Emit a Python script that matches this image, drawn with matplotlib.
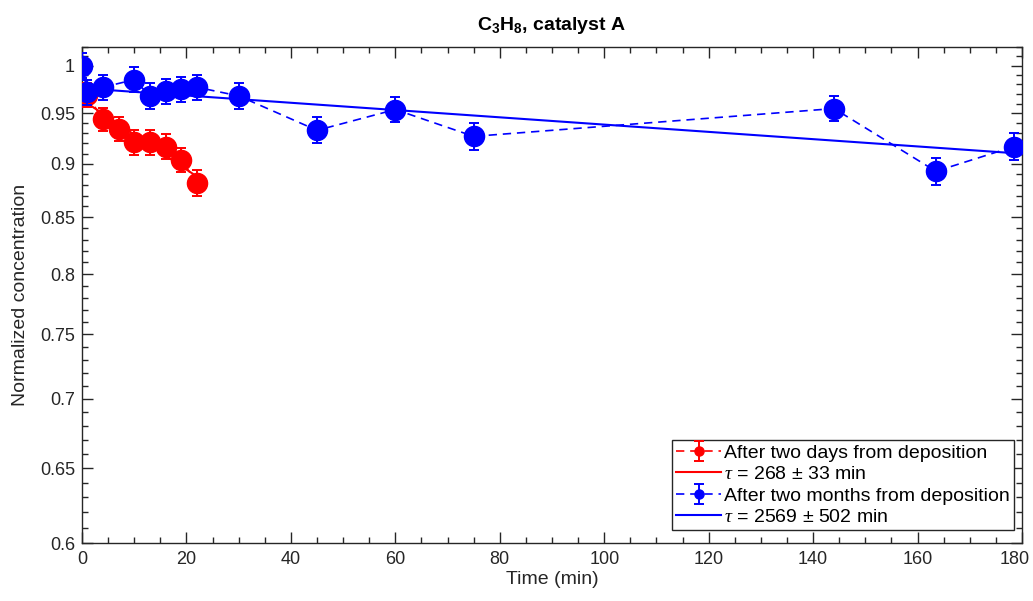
import numpy as np
import matplotlib
matplotlib.use("Agg")
import matplotlib.pyplot as plt
import matplotlib.transforms as mtransforms
from matplotlib.ticker import FixedLocator, FixedFormatter

plt.rcParams['font.family'] = ['Liberation Sans', 'DejaVu Sans']
plt.rcParams['mathtext.fontset'] = 'custom'
plt.rcParams['mathtext.rm'] = 'Liberation Sans'
plt.rcParams['mathtext.it'] = 'Liberation Serif:italic'
plt.rcParams['mathtext.bf'] = 'Liberation Sans:bold'

# ---- data ----
t_red = [1, 4, 7, 10, 13, 16, 19, 22]
c_red = [0.969, 0.944, 0.934, 0.921, 0.921, 0.917, 0.904, 0.882]
e_red = [0.012, 0.012, 0.012, 0.012, 0.012, 0.012, 0.012, 0.012]

t_blue = [0, 1, 4, 10, 13, 16, 19, 22, 30, 45, 60, 75, 144, 163.5, 178.5]
c_blue = [1.0, 0.972, 0.977, 0.985, 0.968, 0.973, 0.975, 0.977, 0.968,
          0.933, 0.954, 0.927, 0.955, 0.893, 0.917]
e_blue = [0.013] * 15

tau_red, amp_red, tfit_red = 268, 0.964, [0, 22]
tau_blue, amp_blue, tfit_blue = 2569, 0.976, [0, 180]

labels = ['After two days from deposition', r'$\tau$ = 268 ± 33 min',
          'After two months from deposition', r'$\tau$ = 2569 ± 502 min']

yticks = [0.6, 0.65, 0.7, 0.75, 0.8, 0.85, 0.9, 0.95, 1.0]
yticklabels = ['0.6', '0.65', '0.7', '0.75', '0.8', '0.85', '0.9', '0.95', '1']
yminor = [round(0.6 + 0.01 * i, 2) for i in range(43)]
xticks = [0, 20, 40, 60, 80, 100, 120, 140, 160, 180]

# ---- figure ----
fig = plt.figure(figsize=(10.33, 6.01), dpi=100)
ax = fig.add_axes([0.0794, 0.0965, 0.9100, 0.8253])

red = '#ff0000'
blue = '#0000ff'

def fitline(amp, tau, rng):
    tt = np.linspace(rng[0], rng[1], 200)
    return tt, amp * np.exp(-tt / tau)

h1 = ax.errorbar(t_red, c_red, yerr=e_red, fmt='o', color=red, ls=(0, (5, 3.5)),
                 lw=1.2, ms=14.5, elinewidth=1.4, capsize=3.5, capthick=1.4, zorder=3)
tt, yy = fitline(amp_red, tau_red, tfit_red)
h2, = ax.plot(tt, yy, color=red, lw=1.5, zorder=3)
h3 = ax.errorbar(t_blue, c_blue, yerr=e_blue, fmt='o', color=blue, ls=(0, (5, 3.5)),
                 lw=1.2, ms=14.5, elinewidth=1.4, capsize=3.5, capthick=1.4, zorder=4)
tt, yy = fitline(amp_blue, tau_blue, tfit_blue)
h4, = ax.plot(tt, yy, color=blue, lw=1.5, zorder=4)

ax.set_yscale('log')
ax.set_xlim(0, 180)
ax.set_ylim(0.6, 1.02)
ax.yaxis.set_major_locator(FixedLocator(yticks))
ax.yaxis.set_major_formatter(FixedFormatter(yticklabels))
ax.yaxis.set_minor_locator(FixedLocator(yminor))
ax.yaxis.set_minor_formatter(FixedFormatter([''] * len(yminor)))
ax.set_xticks(xticks)
ax.set_xticks(np.arange(0, 181, 5), minor=True)

gray = '#262626'
for s in ax.spines.values():
    s.set_color(gray)
    s.set_linewidth(1.0)
ax.tick_params(which='both', direction='in', top=True, right=True, colors=gray,
               labelsize=13, labelcolor=gray)
ax.tick_params(which='major', length=8, width=1.0, pad=5)
ax.tick_params(which='minor', length=4, width=1.0)
ax.tick_params(axis='x', which='major', pad=6)

# keep the last x tick label inside the figure
last = ax.get_xticklabels()[-1]
last.set_transform(last.get_transform() +
                   mtransforms.ScaledTranslation(-5 / 72, 0, fig.dpi_scale_trans))

ax.set_xlabel('Time (min)', fontsize=14, color=gray, labelpad=2)
ax.set_ylabel('Normalized concentration', fontsize=14, color=gray, labelpad=8)
ax.set_title(r'$\mathbf{C_3H_8}$, catalyst A', fontsize=14, fontweight='bold',
             color='black', pad=12)

leg = ax.legend([h1, h2, h3, h4], labels, loc='lower right',
                bbox_to_anchor=(0.991, 0.026), borderaxespad=0, fontsize=14,
                fancybox=False, framealpha=1, edgecolor=gray, handlelength=2.3,
                handletextpad=0.15, labelspacing=0.2, borderpad=0.2,
                markerscale=0.45)
leg.get_frame().set_linewidth(1.0)

fig.savefig('out.png', dpi=100)
